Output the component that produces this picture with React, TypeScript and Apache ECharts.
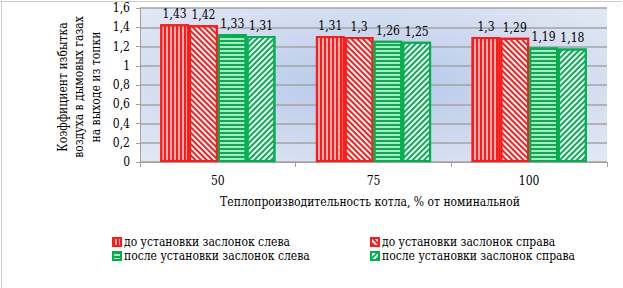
import React, { useEffect, useRef } from "react";
import * as echarts from "echarts";

const categories = ["50", "75", "100"];
const seriesNames = [
  "до установки заслонок слева",
  "до установки заслонок справа",
  "после установки заслонок слева",
  "после установки заслонок справа",
];
const beforeLeft = [1.43, 1.31, 1.3];
const beforeRight = [1.42, 1.3, 1.29];
const afterLeft = [1.33, 1.26, 1.19];
const afterRight = [1.31, 1.25, 1.18];
const yTicks = { min: 0, max: 1.6, interval: 0.2 };
const yAxisTitle = "Коэффициент избытка\nвоздуха в дымовых газах\nна выходе из топки";
const xAxisTitle = "Теплопроизводительность котла, % от номинальной";

const FONT = "DejaVu Serif Condensed, DejaVu Serif";
const FS = 12;
const RED = "#ff1a1a";
const GREEN = "#00b050";

const comma = (v: number) => String(v).replace(".", ",");

export default function App() {
  const ref = useRef<HTMLDivElement>(null);
  useEffect(() => {
    if (!ref.current) return;
    const chart = echarts.init(ref.current, null, { renderer: "svg" });
    const vStripe = (color: string, rotation: number) => ({
      symbol: "rect",
      symbolSize: 1,
      color,
      dashArrayX: [1.5, 1.5],
      dashArrayY: [10, 0],
      rotation,
    });
    const hStripe = (color: string) => ({
      symbol: "rect",
      symbolSize: 1,
      color,
      dashArrayX: [10, 0],
      dashArrayY: [1.5, 1.5],
      rotation: 0,
    });
    const datas = [beforeLeft, beforeRight, afterLeft, afterRight];
    const styles = [
      { color: "#ffb0b0", borderColor: RED, decal: vStripe(RED, 0) },
      { color: "#ffffff", borderColor: RED, decal: vStripe(RED, -Math.PI / 4) },
      { color: "#b4e2c2", borderColor: GREEN, decal: hStripe(GREEN) },
      { color: "#ffffff", borderColor: GREEN, decal: vStripe(GREEN, Math.PI / 4) },
    ];
    const series = datas.map((d, i) => ({
      name: seriesNames[i],
      type: "bar",
      data: d,
      barGap: "0%",
      barCategoryGap: "26%",
      itemStyle: { ...styles[i], borderWidth: 2 },
      label: {
        show: true,
        position: "top",
        distance: 4,
        fontFamily: FONT,
        fontSize: FS,
        color: "#000",
        formatter: (p: any) => comma(p.value),
      },
    }));
    const legendPos = [
      { left: 112, top: 236 },
      { left: 370, top: 236 },
      { left: 112, top: 250 },
      { left: 370, top: 250 },
    ];
    chart.setOption({
      animation: false,
      backgroundColor: "#ffffff",
      textStyle: { fontFamily: FONT },
      grid: {
        left: 140,
        top: 8,
        width: 467,
        height: 154,
        show: true,
        borderWidth: 0,
        backgroundColor: new echarts.graphic.RadialGradient(0.5, 0.5, 0.75, [
          { offset: 0, color: "#b3c6e9" },
          { offset: 0.6, color: "#d3ddf0" },
          { offset: 1, color: "#e6ebf5" },
        ]),
      },
      legend: seriesNames.map((n, i) => ({
        data: [n],
        left: legendPos[i].left,
        top: legendPos[i].top,
        padding: 0,
        icon: "rect",
        itemWidth: 8,
        itemHeight: 8,
        itemGap: 3,
        textStyle: { fontFamily: FONT, fontSize: FS, color: "#000", padding: [0, 0, 0, -2] },
        selectedMode: false,
      })),
      xAxis: {
        type: "category",
        data: categories,
        axisLine: { lineStyle: { color: "#a0a0a0", width: 1 } },
        axisTick: { show: true, length: 5, lineStyle: { color: "#a0a0a0" } },
        axisLabel: { fontFamily: FONT, fontSize: FS, color: "#000", margin: 13 },
      },
      yAxis: {
        type: "value",
        min: yTicks.min,
        max: yTicks.max,
        interval: yTicks.interval,
        axisLine: { show: true, lineStyle: { color: "#a0a0a0", width: 1 } },
        axisTick: { show: true, length: 4, lineStyle: { color: "#a0a0a0" } },
        axisLabel: {
          fontFamily: FONT,
          fontSize: FS,
          color: "#000",
          margin: 10,
          formatter: (v: number) => comma(Math.round(v * 10) / 10),
        },
        splitLine: { show: true, lineStyle: { color: "#a3a3a3", width: 1.5 } },
      },
      graphic: [
        {
          type: "line",
          shape: { x1: 1.5, y1: 1.5, x2: 622, y2: 1.5 },
          style: { stroke: "#9a9a9a", lineWidth: 1, lineDash: [1, 1] },
        },
        {
          type: "line",
          shape: { x1: 1.5, y1: 1.5, x2: 1.5, y2: 288 },
          style: { stroke: "#9a9a9a", lineWidth: 1, lineDash: [1, 1] },
        },
        {
          type: "text",
          x: 79,
          y: 87,
          rotation: Math.PI / 2,
          style: {
            text: yAxisTitle,
            fontFamily: FONT,
            fontSize: FS,
            lineHeight: 16.5,
            fill: "#000",
            align: "center",
            verticalAlign: "middle",
          },
        },
        {
          type: "text",
          x: 370,
          y: 202,
          style: {
            text: xAxisTitle,
            fontFamily: FONT,
            fontSize: FS,
            fill: "#000",
            align: "center",
            verticalAlign: "middle",
          },
        },
      ],
      series,
    });
    return () => chart.dispose();
  }, []);
  return (
    <div
      ref={ref}
      style={{ position: "fixed", left: 0, top: 0, width: 623, height: 288 }}
    />
  );
}
